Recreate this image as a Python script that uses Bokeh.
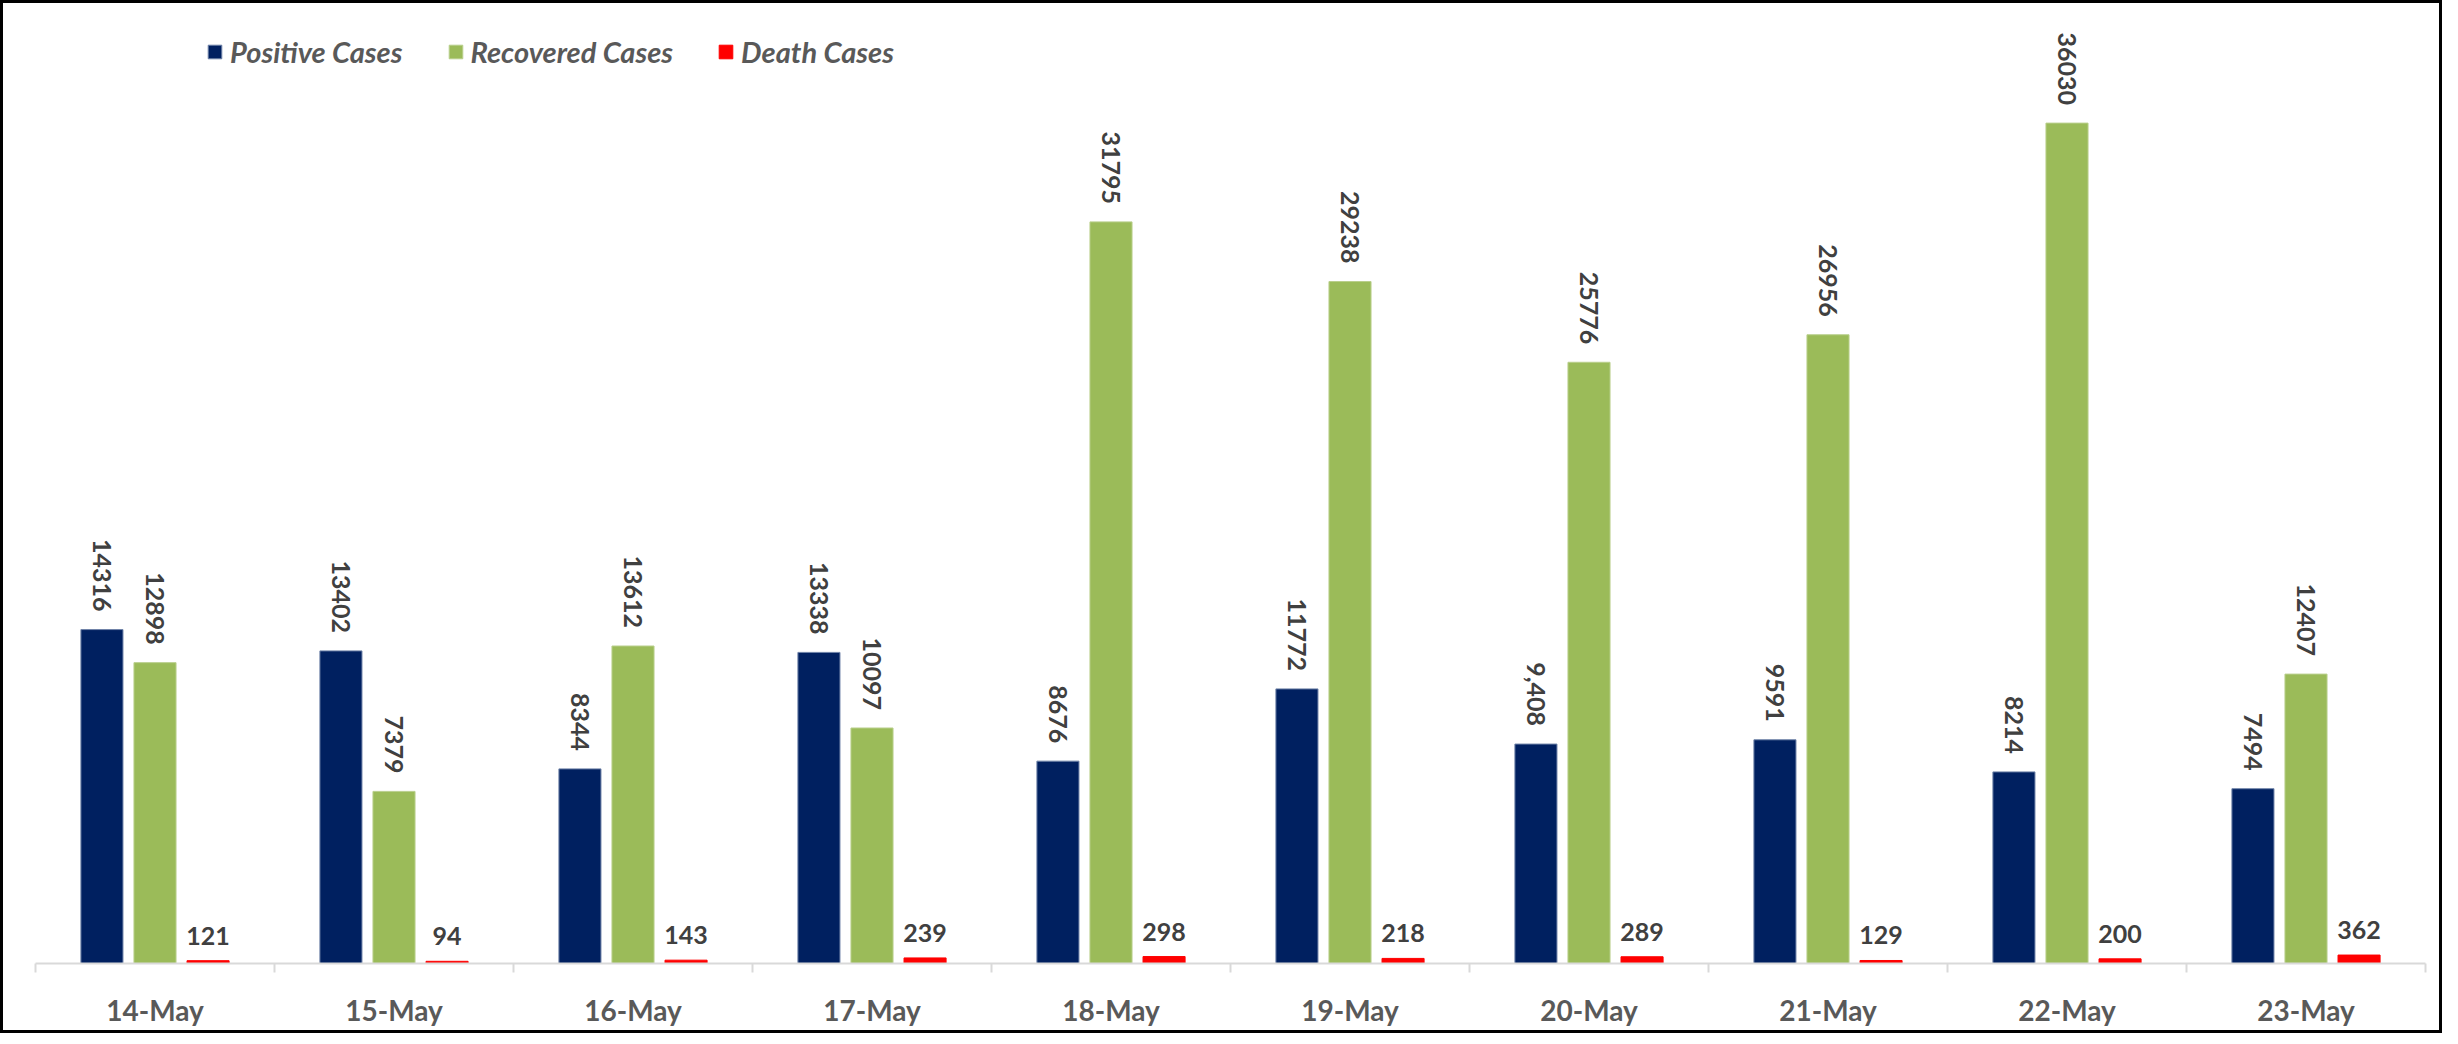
from bokeh.plotting import figure
from bokeh.models import ColumnDataSource, FixedTicker, Legend, LegendItem, Range1d
from bokeh.core.properties import value
from bokeh.embed import file_html
from bokeh.resources import INLINE
import math

# ---------------- data ----------------
dates = ["14-May", "15-May", "16-May", "17-May", "18-May",
         "19-May", "20-May", "21-May", "22-May", "23-May"]
positive = [14316, 13402, 8344, 13338, 8676, 11772, 9408, 9591, 8214, 7494]
positive_labels = ["14316", "13402", "8344", "13338", "8676",
                   "11772", "9,408", "9591", "8214", "7494"]
recovered = [12898, 7379, 13612, 10097, 31795, 29238, 25776, 26956, 36030, 12407]
deaths = [121, 94, 143, 239, 298, 218, 289, 129, 200, 362]
series_names = ["Positive Cases", "Recovered Cases", "Death Cases"]

# ---------------- styles ----------------
C_POS, C_REC, C_DEA = "#002060", "#9BBB59", "#FF0000"
FONT = "Lato"
LABEL_COLOR = "#404040"
AXIS_TEXT = "#595959"
BW = 0.176
OFF = 0.222

centers = [i + 0.5 for i in range(len(dates))]

src = ColumnDataSource(dict(
    xp=[c - OFF for c in centers],
    xr=centers,
    xd=[c + OFF for c in centers],
    pos=positive, rec=recovered, dea=deaths,
    pos_lbl=positive_labels,
    rec_lbl=[str(v) for v in recovered],
    dea_lbl=[str(v) for v in deaths],
))

p = figure(width=2442, height=1033, output_backend="svg", toolbar_location=None,
           x_range=Range1d(0, len(dates)), y_range=Range1d(0, 40000),
           min_border_left=32, min_border_right=20, min_border_top=27,
           min_border_bottom=73, background_fill_color="white",
           border_fill_color="white")
p.styles = {"border": "3px solid #000000", "box-sizing": "border-box"}
p.outline_line_color = None
p.grid.visible = False
p.yaxis.visible = False

r_pos = p.vbar(x="xp", top="pos", width=BW, source=src, fill_color=C_POS,
               line_color="#6f83a8", line_width=1)
r_rec = p.vbar(x="xr", top="rec", width=BW, source=src, fill_color=C_REC,
               line_color="#b9cf8c", line_width=1)
r_dea = p.vbar(x="xd", top="dea", width=BW, source=src, fill_color=C_DEA,
               line_color=C_DEA, line_width=1)

common = dict(text_font=value(FONT), text_font_style="bold",
              text_color=LABEL_COLOR, text_font_size="25px")
p.text(x="xp", y="pos", text="pos_lbl", source=src, angle=-math.pi / 2,
       text_align="right", text_baseline="middle", y_offset=-18, **common)
p.text(x="xr", y="rec", text="rec_lbl", source=src, angle=-math.pi / 2,
       text_align="right", text_baseline="middle", y_offset=-18, **common)
p.text(x="xd", y="dea", text="dea_lbl", source=src,
       text_align="center", text_baseline="bottom", y_offset=-16, **common)

# x axis: labels at category centres, ticks at category boundaries
ax = p.xaxis[0]
ax.ticker = FixedTicker(ticks=centers, minor_ticks=list(range(len(dates) + 1)))
ax.major_label_overrides = {c: d for c, d in zip(centers, dates)}
ax.axis_line_color = "#D9D9D9"
ax.axis_line_width = 2
ax.major_tick_line_color = None
ax.major_tick_out = 0
ax.major_tick_in = 0
ax.minor_tick_line_color = "#D9D9D9"
ax.minor_tick_line_width = 2
ax.minor_tick_out = 9
ax.minor_tick_in = 0
ax.major_label_standoff = 20
ax.major_label_text_font = FONT
ax.major_label_text_font_style = "bold"
ax.major_label_text_font_size = "28px"
ax.major_label_text_color = AXIS_TEXT

legend = Legend(items=[LegendItem(label=series_names[0], renderers=[r_pos]),
                       LegendItem(label=series_names[1], renderers=[r_rec]),
                       LegendItem(label=series_names[2], renderers=[r_dea])],
                orientation="horizontal", location=(171, 894),
                glyph_width=17, glyph_height=17, label_standoff=7, spacing=44,
                padding=0, margin=0, border_line_color=None,
                background_fill_alpha=0,
                label_text_font=FONT, label_text_font_style="bold italic",
                label_text_font_size="29px", label_text_color=AXIS_TEXT)
p.add_layout(legend, "center")

open("out.html", "w").write(file_html(p, INLINE))
